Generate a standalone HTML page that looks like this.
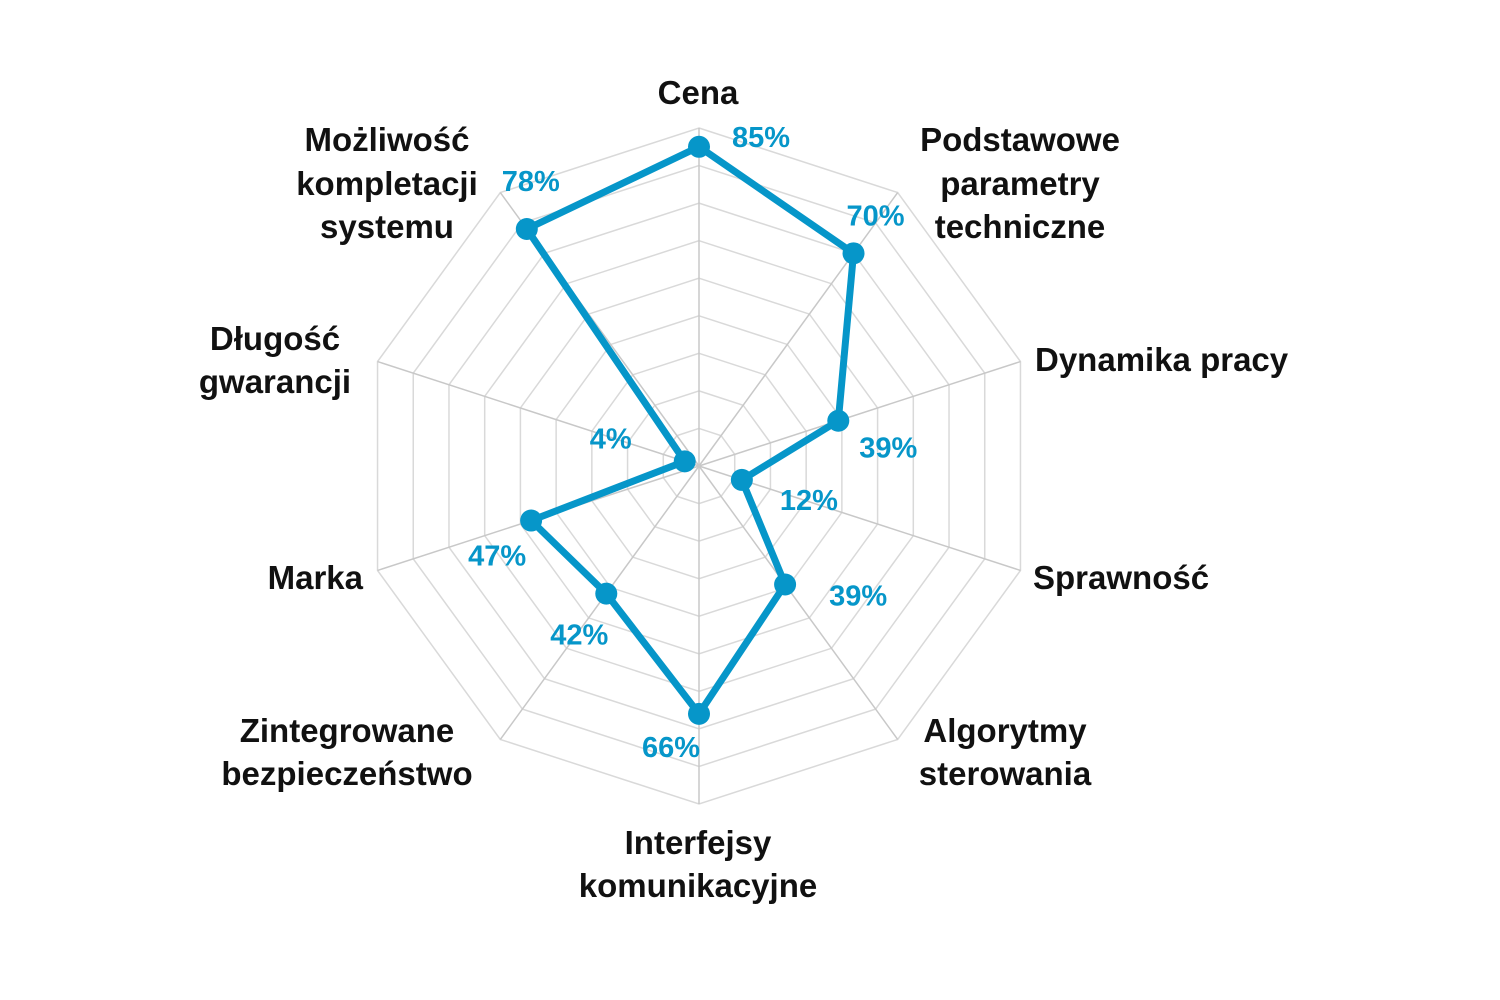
<!DOCTYPE html>
<html><head><meta charset="utf-8"><style>
html,body{margin:0;padding:0;background:#fff;}
svg{display:block;}
.cat{font-family:"Liberation Sans",Arial,sans-serif;font-weight:bold;font-size:33px;fill:#111;}
.val{font-family:"Liberation Sans",Arial,sans-serif;font-weight:bold;font-size:29px;fill:#0696c9;}
</style></head><body>
<svg id="chart" width="1500" height="1000" viewBox="0 0 1500 1000">
<g id="grid"></g>
<g id="series"></g>
<g id="labels"></g>
</svg>
<script>
const categories = ["Cena","Podstawowe parametry techniczne","Dynamika pracy","Sprawność","Algorytmy sterowania","Interfejsy komunikacyjne","Zintegrowane bezpieczeństwo","Marka","Długość gwarancji","Możliwość kompletacji systemu"];
const values = [85,70,39,12,39,66,42,47,4,78];
const valueLabels = ["85%","70%","39%","12%","39%","66%","42%","47%","4%","78%"];
const ringSteps = [10,20,30,40,50,60,70,80,90];

const NS="http://www.w3.org/2000/svg";
const cx=699, cy=466, maxV=90, R=338;
function rad(v){return v/maxV*R;}
function pt(i,v){const a=i*2*Math.PI/categories.length;return [cx+rad(v)*Math.sin(a), cy-rad(v)*Math.cos(a)];}
function mk(tag,attrs,parent){const e=document.createElementNS(NS,tag);for(const k in attrs)e.setAttribute(k,attrs[k]);parent.appendChild(e);return e;}

const grid=document.getElementById('grid');
ringSteps.forEach(s=>{
  const p=categories.map((c,i)=>pt(i,s).join(',')).join(' ');
  const e=mk('polygon',{points:p,fill:'none',stroke:'#d9d9d9','stroke-width':1.5},grid);
  
  
});
categories.forEach((c,i)=>{
  const [x,y]=pt(i,maxV);
  const e=mk('line',{x1:cx,y1:cy,x2:x,y2:y,stroke:'#c8c8c8','stroke-width':1.5},grid);
  
  
});

const series=document.getElementById('series');
const pts=values.map((v,i)=>pt(i,v));
const poly=mk('polygon',{points:pts.map(p=>p.join(',')).join(' '),fill:'none',stroke:'#0696c9','stroke-width':7,'stroke-linejoin':'round'},series);


const offs=[[62,-10],[22,-38],[50,27],[67,20],[73,11],[-28,33],[-27,41],[-34,35],[-74,-23],[4,-48]];
pts.forEach((p,i)=>{
  const c=mk('circle',{cx:p[0],cy:p[1],r:11,fill:'#0696c9'},series);
  
  
  const t=mk('text',{x:p[0]+offs[i][0],y:p[1]+offs[i][1]+10,'text-anchor':'middle',class:'val'},series);
  t.textContent=valueLabels[i];
  
  
});

const labels=document.getElementById('labels');
const lab=[
 {x:698,y:[104],a:'middle'},
 {x:1020,y:[151,195,238],a:'middle'},
 {x:1035,y:[371],a:'start'},
 {x:1033,y:[589],a:'start'},
 {x:1005,y:[742,785],a:'middle'},
 {x:698,y:[854,897],a:'middle'},
 {x:347,y:[742,785],a:'middle'},
 {x:363,y:[589],a:'end'},
 {x:275,y:[350,393],a:'middle'},
 {x:387,y:[151,195,238],a:'middle'}
];
const lines=[["Cena"],["Podstawowe","parametry","techniczne"],["Dynamika pracy"],["Sprawność"],["Algorytmy","sterowania"],["Interfejsy","komunikacyjne"],["Zintegrowane","bezpieczeństwo"],["Marka"],["Długość","gwarancji"],["Możliwość","kompletacji","systemu"]];
categories.forEach((c,i)=>{
  const L=lab[i];
  const t=mk('text',{'text-anchor':L.a,class:'cat'},labels);
  
  
  lines[i].forEach((s,j)=>{const ts=mk('tspan',{x:L.x,y:L.y[j]},t);ts.textContent=s;});
});
</script>
</body></html>
